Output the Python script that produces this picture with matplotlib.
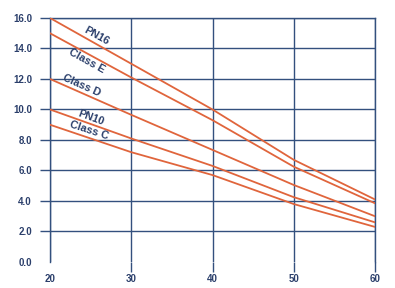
import numpy as np
import matplotlib
matplotlib.use('Agg')
import matplotlib.pyplot as plt

plt.rcParams['font.family'] = ['Liberation Sans', 'DejaVu Sans']

# pipe classes, values
x_vals = [20, 30, 40, 50, 60]
pn16 = [16.0, 13.0, 10.0, 6.7, 4.1]
class_e = [15.0, 12.1, 9.3, 6.25, 3.85]
class_d = [12.0, 9.65, 7.35, 5.05, 3.0]
pn10 = [10.0, 8.1, 6.3, 4.25, 2.6]
class_c = [9.0, 7.2, 5.7, 3.8, 2.3]

x_ticks = [20, 30, 40, 50, 60]
y_ticks = [0, 2, 4, 6, 8, 10, 12, 14, 16]

# label text, x, y, rotation
labels = [('PN16', 25.7, 14.85, -29),
          ('Class E', 24.5, 13.2, -29),
          ('Class D', 23.9, 11.6, -24),
          ('PN10', 25.0, 9.45, -20),
          ('Class C', 24.8, 8.6, -18)]

navy = '#33507e'
txt = '#2b3f6b'
orange = '#e0653c'

fig = plt.figure(figsize=(3.95, 2.88), dpi=100)
ax = fig.add_axes([0.1266, 0.0903, 0.8228, 0.8472])

for s in [pn16, class_e, class_d, pn10, class_c]:
    ax.plot(x_vals, s, color=orange, lw=1.3, zorder=3)

for t, lx, ly, rot in labels:
    ax.text(lx, ly, t, rotation=rot, ha='center', va='center',
            fontsize=7.8, fontweight='bold', color=txt, zorder=4)

ax.set_xlim(20, 60)
ax.set_ylim(0, 16)
ax.set_xticks(x_ticks)
ax.set_yticks(y_ticks)
ax.set_yticklabels(['%.1f' % v for v in y_ticks])
ax.grid(True, color=navy, lw=1.0, zorder=1)
ax.tick_params(direction='out', length=7, width=1.0, color=navy,
               labelsize=7, labelcolor=txt)
ax.tick_params(axis='y', pad=6)
ax.tick_params(axis='x', pad=2)
for lab in ax.get_xticklabels() + ax.get_yticklabels():
    lab.set_fontweight('bold')
ax.yaxis.get_major_ticks()[0].tick1line.set_visible(False)
ax.yaxis.get_major_ticks()[0].gridline.set_visible(False)
ax.xaxis.get_major_ticks()[0].tick1line.set_visible(False)

ax.spines['bottom'].set_visible(False)
for k in ['top', 'left', 'right']:
    ax.spines[k].set_color(navy)
    ax.spines[k].set_linewidth(1.0)

fig.savefig('out.png', dpi=100)
